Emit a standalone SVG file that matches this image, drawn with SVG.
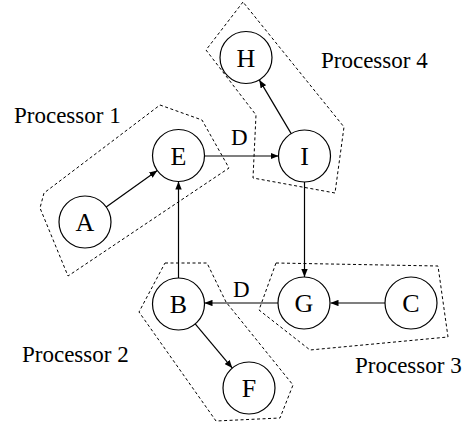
<svg xmlns="http://www.w3.org/2000/svg" width="468" height="425" viewBox="0 0 468 425">
  <style>
    .region { fill: none; stroke: #000; stroke-width: 1; stroke-dasharray: 3 2.5; }
    .node circle { fill: #fff; stroke: #000; stroke-width: 1.2; }
    .node text, .label { font-family: "Liberation Serif", "Times New Roman", serif; fill: #000; }
    .label { font-size: 23px; }
    .node text { font-size: 26px; text-anchor: middle; }
    .edge { stroke: #000; stroke-width: 1.2; fill: none; marker-end: url(#arrow); }
  </style>
  <defs>
    <marker id="arrow" viewBox="0 0 10 8" refX="10" refY="4" markerWidth="8" markerHeight="6.4" markerUnits="userSpaceOnUse" orient="auto">
      <path d="M0,0 L10,4 L0,8 z" fill="#000"/>
    </marker>
  </defs>
  <rect width="468" height="425" fill="#fff"/>

  <!-- processor regions -->
  <g id="regions">
    <polygon class="region" points="160,105 202,120 229,168 68,276 40,208 44,193"/>
    <polygon class="region" points="165,263 207,263 226,302 293,385 280,418 216,421 139,312"/>
    <polygon class="region" points="276,263 438,266 448,337 310,350 259,310"/>
    <polygon class="region" points="243,2 206,50 256,115 253,178 335,193 344,127"/>
  </g>

  <!-- region labels -->
  <g id="labels">
    <text class="label" x="14" y="123">Processor 1</text>
    <text class="label" x="22" y="362">Processor 2</text>
    <text class="label" x="355" y="373">Processor 3</text>
    <text class="label" x="321" y="68">Processor 4</text>
  </g>

  <!-- connectors -->
  <g id="edges">
    <line class="edge" x1="106.2" y1="206.9" x2="157.3" y2="170.6"/>
    <line class="edge" x1="204.5" y1="156" x2="278.5" y2="156"/>
    <line class="edge" x1="291.2" y1="133.6" x2="259.3" y2="79.9"/>
    <line class="edge" x1="304.5" y1="182" x2="304.5" y2="277"/>
    <line class="edge" x1="385" y1="303" x2="330.5" y2="303"/>
    <line class="edge" x1="278" y1="303" x2="204.5" y2="303"/>
    <line class="edge" x1="178.5" y1="278" x2="178.5" y2="181.5"/>
    <line class="edge" x1="195.2" y1="323.9" x2="232.3" y2="368.1"/>
    <text class="label" x="231" y="145">D</text>
    <text class="label" x="233" y="297">D</text>
  </g>

  <!-- nodes -->
  <g id="node-A" class="node"><circle cx="85" cy="222" r="26"/><text x="85" y="231">A</text></g>
  <g id="node-E" class="node"><circle cx="178.5" cy="155.5" r="26"/><text x="178.5" y="164.5">E</text></g>
  <g id="node-H" class="node"><circle cx="246" cy="57.5" r="26"/><text x="246" y="66.5">H</text></g>
  <g id="node-I" class="node"><circle cx="304.5" cy="156" r="26"/><text x="304.5" y="165">I</text></g>
  <g id="node-B" class="node"><circle cx="178.5" cy="304" r="26"/><text x="178.5" y="313">B</text></g>
  <g id="node-F" class="node"><circle cx="249" cy="388" r="26"/><text x="249" y="397">F</text></g>
  <g id="node-G" class="node"><circle cx="304" cy="303" r="26"/><text x="304" y="312">G</text></g>
  <g id="node-C" class="node"><circle cx="411" cy="303" r="26"/><text x="411" y="312">C</text></g>
</svg>
